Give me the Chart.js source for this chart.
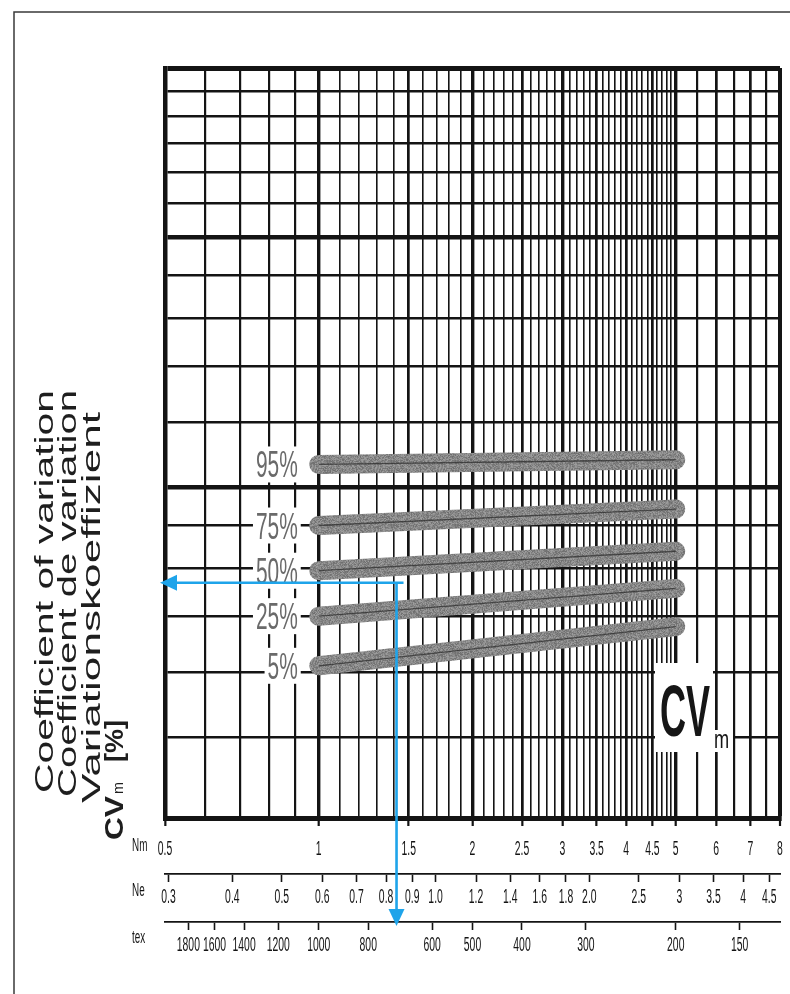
<!DOCTYPE html>
<html>
<head>
<meta charset="utf-8">
<title>CVm – Coefficient of variation</title>
<script src="https://cdn.jsdelivr.net/npm/chart.js@4.4.1/dist/chart.umd.min.js"></script>
<style>
  html, body { margin: 0; padding: 0; background: #ffffff; }
  #wrap { position: relative; width: 790px; height: 994px; }
  canvas { display: block; }
</style>
</head>
<body>
<div id="wrap"><canvas id="cv" width="790" height="994"></canvas></div>
<script>
// Percentile curves of the mass coefficient of variation CVm against yarn count
const PERCENTILES = ['95%', '75%', '50%', '25%', '5%'];
const COUNT_NM = [1, 5];
const CV_95 = [5.33, 5.40];
const CV_75 = [4.50, 4.71];
const CV_50 = [3.97, 4.19];
const CV_25 = [3.50, 3.78];
const CV_5  = [3.05, 3.40];
const SERIES = [CV_95, CV_75, CV_50, CV_25, CV_5];

// Worked example: a count of Nm 1.42 read across to its CVm
const EXAMPLE_NM = 1.42;
const EXAMPLE_CV = 3.84;

// Axis ranges and count conversions
const NM_MIN = 0.5, NM_MAX = 8;
const CV_MIN = 2, CV_MAX = 16;
const NE_PER_NM = 0.5905;   // English cotton count per metric count
const TEX_PER_NM = 1000;    // tex = 1000 / Nm

// Tick labels of the three count scales and the CV scale
const NM_LABELS = [0.5, 1, 1.5, 2, 2.5, 3, 3.5, 4, 4.5, 5, 6, 7, 8];
const NE_LABELS = ['0.3', '0.4', '0.5', '0.6', '0.7', '0.8', '0.9', '1.0', '1.2', '1.4', '1.6', '1.8', '2.0', '2.5', '3', '3.5', '4', '4.5'];
const TEX_LABELS = [1800, 1600, 1400, 1200, 1000, 800, 600, 500, 400, 300, 200, 150];
const CV_LABELS = [2, 3, 4, 5, 6, 7, 8, 9, 10, 12, 14, 16];

// Ruling of the log paper
const NM_GRID = [];
for (let t = 5; t <= 50; t++) NM_GRID.push(t / 10);          // 0.5 … 5.0 in steps of 0.1
for (let t = 11; t <= 16; t++) NM_GRID.push(t / 2);          // 5.5 … 8.0 in steps of 0.5
const NM_HEAVY = [1, 2, 3, 5];
const CV_GRID = [2, 2.5, 3, 3.5, 4, 4.5, 5, 6, 7, 8, 9, 10, 11, 12, 13, 14, 15, 16];
const CV_HEAVY = [5, 10];

const FONT = "'Liberation Sans', Arial, Helvetica, sans-serif";
const INK = '#141414';

const near = (a, b) => Math.abs(a - b) < 1e-6;
const inList = (v, list) => list.some(w => near(v, w));

function nmLineWidth(v) {
  if (v === undefined) return 1.6;
  if (near(v, NM_MAX)) return 4;
  if (inList(v, NM_HEAVY)) return 3.4;
  if (inList(v, NM_LABELS)) return 2.7;
  if (v < 1 || v > 5) return 2.2;
  return 1.6;
}
function cvLineWidth(v) {
  if (v === undefined) return 2.5;
  if (near(v, CV_MAX)) return 5;
  if (inList(v, CV_HEAVY)) return 4.6;
  return 2.5;
}

// Narrow lettering: text squeezed horizontally
function narrowText(ctx, text, x, y, o) {
  const size = o.size || 20, squeeze = o.squeeze || 0.52;
  ctx.save();
  ctx.font = (o.weight || 'normal') + ' ' + size + 'px ' + FONT;
  ctx.fillStyle = o.color || INK;
  ctx.textBaseline = o.baseline || 'middle';
  ctx.textAlign = 'left';
  const w = ctx.measureText(text).width * squeeze;
  const x0 = o.align === 'right' ? x - w : o.align === 'left' ? x : x - w / 2;
  ctx.translate(x0, y);
  ctx.scale(squeeze, 1);
  ctx.fillText(text, 0, 0);
  ctx.restore();
  return w;
}

// Pencil-like grain for the percentile bands
function grainPattern() {
  const c = document.createElement('canvas');
  c.width = 64; c.height = 64;
  const g = c.getContext('2d');
  const img = g.createImageData(64, 64);
  for (let y = 0; y < 64; y++) {
    for (let x = 0; x < 64; x++) {
      const s = Math.sin(x * 12.9898 + y * 78.233) * 43758.5453;
      const h = s - Math.floor(s);
      const v = Math.round(134 + (h - 0.5) * 50);
      const i = (y * 64 + x) * 4;
      img.data[i] = v; img.data[i + 1] = v; img.data[i + 2] = v; img.data[i + 3] = 255;
    }
  }
  g.putImageData(img, 0, 0);
  return g.createPattern(c, 'repeat');
}

const ctx0 = document.getElementById('cv').getContext('2d');
const grain = grainPattern();

const bandSets = SERIES.map((vals, k) => ({
  label: PERCENTILES[k],
  data: COUNT_NM.map((x, i) => ({ x: x, y: vals[i] })),
  borderColor: grain,
  borderWidth: 19,
  borderCapStyle: 'round',
  pointRadius: 0,
  tension: 0,
  order: 2
}));
const coreSets = SERIES.map((vals, k) => ({
  label: PERCENTILES[k] + ' line',
  data: COUNT_NM.map((x, i) => ({ x: x, y: vals[i] })),
  borderColor: 'rgba(40,40,40,0.7)',
  borderWidth: 1.3,
  pointRadius: 0,
  tension: 0,
  order: 1
}));

// Frame of the sheet
const framePlugin = {
  id: 'frame',
  beforeDraw(chart) {
    const c = chart.ctx;
    c.save();
    c.fillStyle = '#ffffff';
    c.fillRect(0, 0, chart.width, chart.height);
    c.strokeStyle = '#3a3a3a';
    c.lineWidth = 1.5;
    c.beginPath();
    c.moveTo(790, 12); c.lineTo(14, 12); c.lineTo(14, 994);
    c.stroke();
    c.restore();
  }
};

// Percentile captions and the CVm mark, set on white
const captionPlugin = {
  id: 'captions',
  afterDatasetsDraw(chart) {
    const c = chart.ctx, xs = chart.scales.x, ys = chart.scales.y;
    const right = xs.getPixelForValue(COUNT_NM[0]) - 21;
    SERIES.forEach((vals, k) => {
      const y = ys.getPixelForValue(vals[0]);
      c.save();
      c.font = '36px ' + FONT;
      const w = c.measureText(PERCENTILES[k]).width * 0.58;
      c.fillStyle = '#ffffff';
      c.fillRect(right - w - 3, y - 18, w + 6, 36);
      c.restore();
      narrowText(c, PERCENTILES[k], right, y + 13, { size: 36, squeeze: 0.58, align: 'right', baseline: 'alphabetic', color: '#6a6a6a' });
    });
    c.save();
    c.fillStyle = '#ffffff';
    c.fillRect(655, 663, 58, 89);
    c.fillRect(712, 730, 21, 22);
    c.restore();
    narrowText(c, 'CV', 660, 736, { size: 72, squeeze: 0.5, weight: 'bold', align: 'left', baseline: 'alphabetic', color: '#161616' });
    narrowText(c, 'm', 714, 748, { size: 26, squeeze: 0.7, align: 'left', baseline: 'alphabetic', color: '#161616' });
  }
};

// Tick lettering of the count scales and the CV scale, plus the CV axis title
const letteringPlugin = {
  id: 'lettering',
  afterDraw(chart) {
    const c = chart.ctx, s = chart.scales;
    const rowNm = 849, rowNe = 897, rowTex = 945;
    NM_LABELS.forEach(v => narrowText(c, String(v), s.x.getPixelForValue(v), rowNm, { size: 20 }));
    NE_LABELS.forEach(t => narrowText(c, t, s.xNe.getPixelForValue(parseFloat(t)), rowNe, { size: 20 }));
    TEX_LABELS.forEach(v => narrowText(c, String(v), s.xTex.getPixelForValue(v), rowTex, { size: 20 }));
    CV_LABELS.forEach(v => narrowText(c, String(v), s.y.left - 3, s.y.getPixelForValue(v), { size: 20, align: 'right' }));
    narrowText(c, 'Nm', 132, rowNm - 3, { size: 19, align: 'left' });
    narrowText(c, 'Ne', 132, rowNe - 6, { size: 19, align: 'left' });
    narrowText(c, 'tex', 132, rowTex - 7, { size: 19, align: 'left' });

    // vertical title, read from bottom to top
    const seg = (text, baseX, startY, endY, weight, size) => {
      c.save();
      c.font = (weight || 'normal') + ' ' + size + 'px ' + FONT;
      c.fillStyle = '#1e1e1e';
      c.textBaseline = 'alphabetic';
      const w = c.measureText(text).width;
      c.translate(baseX, startY);
      c.rotate(-Math.PI / 2);
      c.scale((startY - endY) / w, 1);
      c.fillText(text, 0, 0);
      c.restore();
    };
    seg('Coefficient of variation', 53, 793, 390, 'normal', 25);
    seg('Coefficient de variation', 76, 797, 390, 'normal', 25);
    seg('Variationskoeffizient', 100, 803, 412, 'normal', 25);
    seg('CV', 123, 840, 796, 'bold', 25);
    seg('m', 123, 794, 782, 'normal', 14);
    seg('[%]', 123, 762, 720, 'bold', 25);
  }
};

// Read-off arrows of the worked example
const arrowPlugin = {
  id: 'arrows',
  afterDraw(chart) {
    const c = chart.ctx, xs = chart.scales.x, ys = chart.scales.y, tx = chart.scales.xTex;
    const px = xs.getPixelForValue(EXAMPLE_NM);
    const py = ys.getPixelForValue(EXAMPLE_CV);
    const tipX = chart.chartArea.left - 5;
    const tipY = tx.top + 4;
    c.save();
    c.strokeStyle = '#1ea4ea';
    c.fillStyle = '#1ea4ea';
    c.lineWidth = 2.6;
    c.beginPath();
    c.moveTo(px + 7, py); c.lineTo(tipX + 14, py);
    c.moveTo(px, py); c.lineTo(px, tipY - 14);
    c.stroke();
    c.beginPath();
    c.moveTo(tipX, py); c.lineTo(tipX + 17, py - 8); c.lineTo(tipX + 17, py + 8); c.closePath();
    c.fill();
    c.beginPath();
    c.moveTo(px, tipY); c.lineTo(px - 8, tipY - 17); c.lineTo(px + 8, tipY - 17); c.closePath();
    c.fill();
    c.restore();
  }
};

new Chart(ctx0, {
  type: 'line',
  data: { datasets: bandSets.concat(coreSets) },
  options: {
    responsive: false,
    animation: false,
    devicePixelRatio: 1,
    layout: { padding: { left: 0, right: 10, top: 68, bottom: 26 } },
    plugins: { legend: { display: false }, tooltip: { enabled: false }, title: { display: false } },
    scales: {
      x: {
        type: 'logarithmic', position: 'bottom', min: NM_MIN, max: NM_MAX, weight: 0,
        afterBuildTicks: s => { s.ticks = NM_GRID.map(v => ({ value: v })); },
        afterFit: s => { s.height = 56; },
        ticks: { display: false, autoSkip: false },
        grid: {
          color: INK,
          lineWidth: c => nmLineWidth(c.tick && c.tick.value),
          drawTicks: true, tickLength: 8, tickWidth: 2.2,
          tickColor: c => (c.tick && inList(c.tick.value, NM_LABELS)) ? INK : 'rgba(0,0,0,0)'
        },
        border: { display: true, color: INK, width: 5 }
      },
      xNe: {
        type: 'logarithmic', position: 'bottom', min: NM_MIN * NE_PER_NM, max: NM_MAX * NE_PER_NM, weight: 1,
        afterBuildTicks: s => { s.ticks = NE_LABELS.map(t => ({ value: parseFloat(t) })); },
        afterFit: s => { s.height = 48; },
        ticks: { display: false, autoSkip: false },
        grid: { drawOnChartArea: false, drawTicks: true, tickLength: 8, tickWidth: 1.6, tickColor: INK, color: INK },
        border: { display: true, color: INK, width: 1.8 }
      },
      xTex: {
        type: 'logarithmic', position: 'bottom', min: TEX_PER_NM / NM_MAX, max: TEX_PER_NM / NM_MIN, reverse: true, weight: 2,
        afterBuildTicks: s => { s.ticks = TEX_LABELS.map(v => ({ value: v })); },
        afterFit: s => { s.height = 46; },
        ticks: { display: false, autoSkip: false },
        grid: { drawOnChartArea: false, drawTicks: true, tickLength: 8, tickWidth: 1.6, tickColor: INK, color: INK },
        border: { display: true, color: INK, width: 1.8 }
      },
      y: {
        type: 'logarithmic', position: 'left', min: CV_MIN, max: CV_MAX,
        afterBuildTicks: s => { s.ticks = CV_GRID.map(v => ({ value: v })); },
        afterFit: s => { s.width = 165; },
        ticks: { display: false, autoSkip: false },
        grid: { color: INK, lineWidth: c => cvLineWidth(c.tick && c.tick.value), drawTicks: false },
        border: { display: true, color: INK, width: 4.5 }
      }
    }
  },
  plugins: [framePlugin, captionPlugin, letteringPlugin, arrowPlugin]
});
</script>
</body>
</html>
